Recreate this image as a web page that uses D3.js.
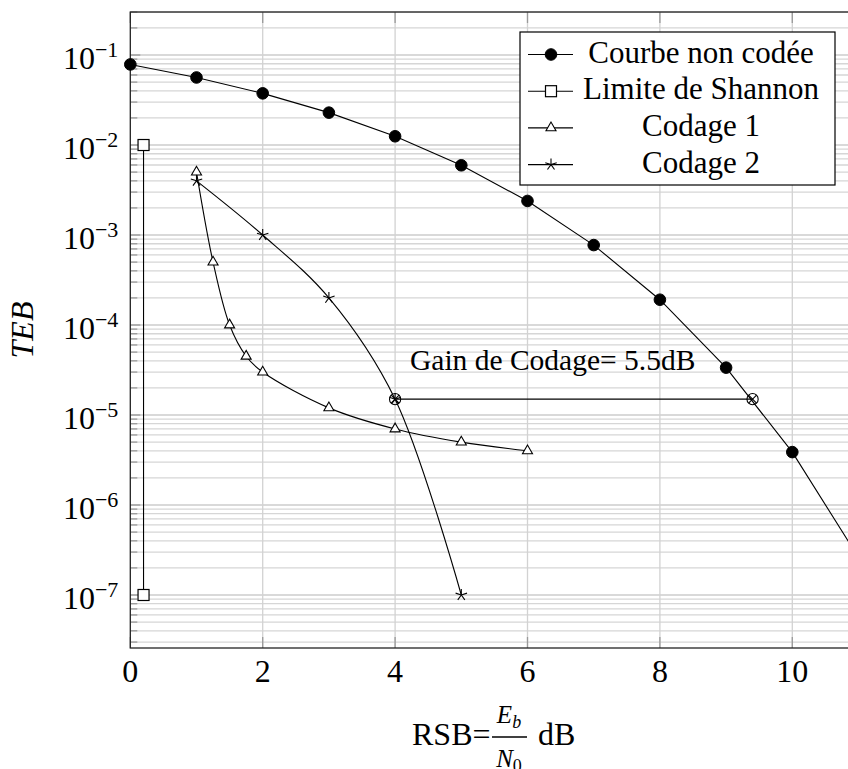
<!DOCTYPE html>
<meta charset="utf-8">
<title>TEB en fonction du RSB</title>
<script src="https://d3js.org/d3.v7.min.js"></script>
<style>
  body { margin: 0; background: #fff; }
  text { font-family: "Liberation Serif", "Times New Roman", serif; fill: #000; }
</style>
<svg width="848" height="769"></svg>
<script>

// values
var snrUncoded = [0, 1, 2, 3, 4, 5, 6, 7, 8, 9, 10, 11];
var berUncoded = [0.0786, 0.0563, 0.0375, 0.0229, 0.0125, 0.00595, 0.00239, 0.000773, 0.000191, 3.36e-5, 3.87e-6, 2.61e-7];

var snrShannon = [0.2, 0.2];
var berShannon = [1e-2, 1e-7];

var snrCodage1 = [1, 1.25, 1.5, 1.75, 2, 3, 4, 5, 6];
var berCodage1 = [5e-3, 5e-4, 1e-4, 4.5e-5, 3e-5, 1.2e-5, 7e-6, 5e-6, 4e-6];

var snrCodage2 = [1, 2, 3, 4, 5];
var berCodage2 = [4e-3, 1e-3, 2e-4, 1.5e-5, 1e-7];

var snrGain = [4, 9.4];
var berGain = [1.5e-5, 1.5e-5];

var xTicks = [0, 2, 4, 6, 8, 10];
var yDecades = [-7, -6, -5, -4, -3, -2, -1];
var legendNames = ["Courbe non codée", "Limite de Shannon", "Codage 1", "Codage 2"];
var legendMarks = ["circle", "square", "triangle", "star"];
var gainLabel = "Gain de Codage= 5.5dB";

var svg = d3.select("svg");

// plot box (note: "top" is a reserved window global, so use other names)
var pLeft = 130.3, pRight = 858.5, pTop = 12, pBottom = 648;

var x = d3.scaleLinear().domain([0, 11]).range([pLeft, pRight]);
var y = d3.scaleLog().domain([Math.pow(10, -7.589), Math.pow(10, -0.522)]).range([pBottom, pTop]);

function zip(xs, ys) {
    return xs.map(function(v, i) { return [v, ys[i]]; });
}

// grid
var gridG = svg.append("g");
var minorVals = [], majorVals = [];
for (var d = -8; d <= -1; d++) {
    for (var m = 1; m <= 9; m++) {
        var v = m * Math.pow(10, d);
        if (v < y.domain()[0] || v > y.domain()[1]) continue;
        if (m == 1) majorVals.push(v); else minorVals.push(v);
    }
}
gridG.selectAll("line.hminor").data(minorVals).enter().append("line")
    .attr("x1", pLeft).attr("x2", pRight)
    .attr("y1", function(d) { return y(d); }).attr("y2", function(d) { return y(d); })
    .style("stroke", "#d6d6d6").style("stroke-width", 1.3);
gridG.selectAll("line.hmajor").data(majorVals).enter().append("line")
    .attr("x1", pLeft).attr("x2", pRight)
    .attr("y1", function(d) { return y(d); }).attr("y2", function(d) { return y(d); })
    .style("stroke", "#cccccc").style("stroke-width", 1.3);
gridG.selectAll("line.v").data(xTicks.slice(1)).enter().append("line")
    .attr("x1", function(d) { return x(d); }).attr("x2", function(d) { return x(d); })
    .attr("y1", pTop).attr("y2", pBottom)
    .style("stroke", "#d2d2d2").style("stroke-width", 1.3);

// tick marks (inward)
var tickG = svg.append("g").style("stroke", "#9a9a9a").style("stroke-width", 1.3);
tickG.selectAll("line.ym").data(minorVals).enter().append("line")
    .attr("x1", pLeft).attr("x2", pLeft + 7)
    .attr("y1", function(d) { return y(d); }).attr("y2", function(d) { return y(d); });
tickG.selectAll("line.yM").data(majorVals).enter().append("line")
    .attr("x1", pLeft).attr("x2", pLeft + 10)
    .attr("y1", function(d) { return y(d); }).attr("y2", function(d) { return y(d); });
tickG.selectAll("line.xb").data(xTicks).enter().append("line")
    .attr("x1", function(d) { return x(d); }).attr("x2", function(d) { return x(d); })
    .attr("y1", pBottom).attr("y2", pBottom - 11);
tickG.selectAll("line.xt").data(xTicks).enter().append("line")
    .attr("x1", function(d) { return x(d); }).attr("x2", function(d) { return x(d); })
    .attr("y1", pTop).attr("y2", pTop + 11);

// frame
svg.append("rect")
    .attr("x", pLeft).attr("y", pTop)
    .attr("width", pRight - pLeft).attr("height", pBottom - pTop)
    .style("fill", "none").style("stroke", "#222").style("stroke-width", 1.3);

// tick labels
svg.append("g").selectAll("text").data(xTicks).enter().append("text")
    .attr("x", function(d) { return x(d); })
    .attr("y", pBottom + 34)
    .attr("text-anchor", "middle")
    .style("font-size", "32px")
    .text(function(d) { return d; });

var yLab = svg.append("g").selectAll("text").data(yDecades).enter().append("text")
    .attr("x", pLeft - 12)
    .attr("y", function(d) { return y(Math.pow(10, d)) + 14; })
    .attr("text-anchor", "end")
    .style("font-size", "32px");
yLab.append("tspan").text("10");
yLab.append("tspan")
    .attr("dy", -12)
    .style("font-size", "22px")
    .text(function(d) { return "\u2212" + Math.abs(d); });

// axis labels
svg.append("text")
    .attr("transform", "translate(33," + ((pTop + pBottom) / 2) + ") rotate(-90)")
    .attr("text-anchor", "middle")
    .style("font-size", "32px")
    .style("font-style", "italic")
    .text("TEB");

var xl = svg.append("g");
xl.append("text").attr("x", 412).attr("y", 745).style("font-size", "32px").text("RSB=");
var num = xl.append("text").attr("x", 509).attr("y", 723).attr("text-anchor", "middle").style("font-size", "25px");
num.append("tspan").style("font-style", "italic").text("E");
num.append("tspan").attr("dy", 5).style("font-size", "18px").style("font-style", "italic").text("b");
xl.append("line").attr("x1", 492).attr("x2", 527).attr("y1", 737).attr("y2", 737)
    .style("stroke", "#000").style("stroke-width", 1.3);
var den = xl.append("text").attr("x", 509).attr("y", 767).attr("text-anchor", "middle").style("font-size", "25px");
den.append("tspan").style("font-style", "italic").text("N");
den.append("tspan").attr("dy", 5).style("font-size", "18px").text("0");
xl.append("text").attr("x", 538).attr("y", 745).style("font-size", "32px").text("dB");

// marks
function drawMark(g, type, cx, cy) {
    if (type == "circle") {
        g.append("circle").attr("cx", cx).attr("cy", cy).attr("r", 5.8)
            .style("fill", "#000").style("stroke", "#000");
    } else if (type == "square") {
        g.append("rect").attr("x", cx - 5.5).attr("y", cy - 5.5).attr("width", 11).attr("height", 11)
            .style("fill", "#fff").style("stroke", "#000").style("stroke-width", 1.2);
    } else if (type == "triangle") {
        var r = 5.8;
        var pts = [[cx, cy - r], [cx - 0.866 * r, cy + 0.5 * r], [cx + 0.866 * r, cy + 0.5 * r]];
        g.append("polygon").attr("points", pts.map(function(p) { return p.join(","); }).join(" "))
            .style("fill", "#fff").style("stroke", "#000").style("stroke-width", 1.1);
    } else if (type == "star") {
        for (var k = 0; k < 5; k++) {
            var a = -Math.PI / 2 + k * 2 * Math.PI / 5;
            g.append("line").attr("x1", cx).attr("y1", cy)
                .attr("x2", cx + 6 * Math.cos(a)).attr("y2", cy + 6 * Math.sin(a))
                .style("stroke", "#000").style("stroke-width", 1.1);
        }
    } else if (type == "otimes") {
        var r2 = 5.6, c = r2 * 0.7071;
        g.append("circle").attr("cx", cx).attr("cy", cy).attr("r", r2)
            .style("fill", "none").style("stroke", "#000").style("stroke-width", 1.1);
        g.append("line").attr("x1", cx - c).attr("y1", cy - c).attr("x2", cx + c).attr("y2", cy + c)
            .style("stroke", "#000").style("stroke-width", 1.1);
        g.append("line").attr("x1", cx - c).attr("y1", cy + c).attr("x2", cx + c).attr("y2", cy - c)
            .style("stroke", "#000").style("stroke-width", 1.1);
    }
}

var straight = d3.line()
    .x(function(d) { return x(d[0]); })
    .y(function(d) { return y(d[1]); });

// smooth curves for the coded series (centripetal catmull-rom, no overshoot)
var smooth = d3.line()
    .x(function(d) { return x(d[0]); })
    .y(function(d) { return y(d[1]); })
    .curve(d3.curveCatmullRom.alpha(0.5));

var series = [
    { pts: zip(snrUncoded, berUncoded), line: straight, mark: "circle" },
    { pts: zip(snrShannon, berShannon), line: straight, mark: "square" },
    { pts: zip(snrCodage1, berCodage1), line: smooth, mark: "triangle" },
    { pts: zip(snrCodage2, berCodage2), line: smooth, mark: "star" },
    { pts: zip(snrGain, berGain), line: straight, mark: "otimes" }
];

var plotG = svg.append("g");
series.forEach(function(s) {
    plotG.append("path")
        .attr("d", s.line(s.pts))
        .style("fill", "none").style("stroke", "#000").style("stroke-width", 1.1);
});
series.forEach(function(s) {
    s.pts.forEach(function(p) { drawMark(plotG, s.mark, x(p[0]), y(p[1])); });
});

svg.append("text")
    .attr("x", 410).attr("y", 370)
    .style("font-size", "29.5px")
    .text(gainLabel);

// legend
var lg = svg.append("g");
lg.append("rect").attr("x", 520).attr("y", 32).attr("width", 315).attr("height", 153)
    .style("fill", "#fff").style("stroke", "#000").style("stroke-width", 1.2);
legendNames.forEach(function(name, i) {
    var cy = 54.5 + i * 36.7;
    lg.append("line").attr("x1", 528).attr("x2", 573).attr("y1", cy).attr("y2", cy)
        .style("stroke", "#000").style("stroke-width", 1.1);
    drawMark(lg, legendMarks[i], 551, cy);
    lg.append("text").attr("x", 701).attr("y", cy + 8)
        .attr("text-anchor", "middle")
        .style("font-size", "31px")
        .text(name);
});

</script>
